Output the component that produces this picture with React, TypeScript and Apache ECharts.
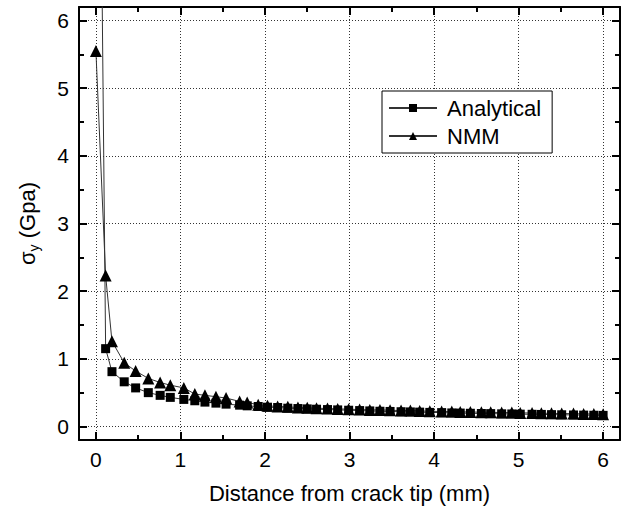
import React, { useEffect, useRef } from "react";
import * as echarts from "echarts";

const xValues = [
  0, 0.115, 0.19, 0.335, 0.47, 0.62, 0.76, 0.88, 1.04, 1.17, 1.29, 1.42, 1.54,
  1.7, 1.79, 1.92, 2.03, 2.15, 2.27, 2.39, 2.5, 2.61, 2.74, 2.86, 2.99, 3.12,
  3.24, 3.36, 3.48, 3.61, 3.72, 3.83, 3.95, 4.09, 4.21, 4.31, 4.43, 4.56, 4.67,
  4.8, 4.92, 5.02, 5.16, 5.27, 5.39, 5.51, 5.65, 5.77, 5.89, 6.0,
];

const analytical = [
  15.7, 1.15, 0.81, 0.66, 0.57, 0.5, 0.46, 0.43, 0.4, 0.38, 0.36, 0.345, 0.33,
  0.315, 0.305, 0.295, 0.285, 0.28, 0.27, 0.265, 0.26, 0.255, 0.25, 0.245, 0.24,
  0.235, 0.23, 0.225, 0.222, 0.218, 0.215, 0.212, 0.208, 0.205, 0.2, 0.198,
  0.195, 0.192, 0.19, 0.187, 0.185, 0.182, 0.18, 0.178, 0.175, 0.173, 0.17,
  0.168, 0.166, 0.164,
];

const nmm = [
  5.55, 2.23, 1.26, 0.94, 0.82, 0.71, 0.65, 0.61, 0.57, 0.48, 0.46, 0.44, 0.42,
  0.37, 0.355, 0.32, 0.305, 0.295, 0.29, 0.28, 0.275, 0.27, 0.265, 0.26, 0.255,
  0.25, 0.245, 0.245, 0.24, 0.235, 0.235, 0.23, 0.225, 0.22, 0.22, 0.215, 0.215,
  0.21, 0.21, 0.205, 0.205, 0.2, 0.2, 0.195, 0.195, 0.19, 0.19, 0.185, 0.185,
  0.18,
];

const majorTicks = [0, 1, 2, 3, 4, 5, 6];
const minorTicks = [0.5, 1.5, 2.5, 3.5, 4.5, 5.5];

const FONT = "Arial, 'Liberation Sans', sans-serif";
const AX_MIN = -0.2;
const AX_MAX = 6.2;

function makeAxes(dir: "x" | "y") {
  const mainPos = dir === "x" ? "bottom" : "left";
  const otherPos = dir === "x" ? "top" : "right";
  const base = {
    type: "value",
    min: AX_MIN,
    max: AX_MAX,
    splitNumber: 6,
  };
  const line = { show: true, onZero: false, lineStyle: { color: "#000", width: 2 } };
  const noLine = { show: false, onZero: false };
  return [
    {
      ...base,
      position: mainPos,
      axisLine: line,
      axisTick: {
        show: true,
        inside: true,
        length: 8,
        customValues: majorTicks,
        lineStyle: { color: "#000", width: 2 },
      },
      axisLabel: {
        show: true,
        customValues: majorTicks,
        margin: dir === "x" ? 9 : 10,
        fontSize: 21,
        color: "#000",
        fontFamily: FONT,
      },
      splitLine: {
        show: true,
        lineStyle: { color: "#333", width: 1, type: [1, 2] },
      },
      name:
        dir === "x" ? "Distance from crack tip (mm)" : "{a|σ}{b|y} (Gpa)",
      nameLocation: "middle",
      nameGap: dir === "x" ? 42 : 38,
      nameTextStyle:
        dir === "x"
          ? { fontSize: 22, color: "#000", fontFamily: FONT }
          : {
              fontSize: 22,
              color: "#000",
              fontFamily: FONT,
              rich: {
                a: { fontSize: 22, fontFamily: FONT, color: "#000" },
                b: {
                  fontSize: 14,
                  fontFamily: FONT,
                  color: "#000",
                  padding: [13, 0, 0, 0],
                },
              },
            },
    },
    {
      ...base,
      position: mainPos,
      axisLine: noLine,
      axisTick: {
        show: true,
        inside: true,
        length: 5,
        customValues: minorTicks,
        lineStyle: { color: "#000", width: 2 },
      },
      axisLabel: { show: false },
      splitLine: { show: false },
    },
    {
      ...base,
      position: otherPos,
      axisLine: line,
      axisTick: {
        show: true,
        inside: true,
        length: 8,
        customValues: majorTicks,
        lineStyle: { color: "#000", width: 2 },
      },
      axisLabel: { show: false },
      splitLine: { show: false },
    },
    {
      ...base,
      position: otherPos,
      axisLine: noLine,
      axisTick: {
        show: true,
        inside: true,
        length: 5,
        customValues: minorTicks,
        lineStyle: { color: "#000", width: 2 },
      },
      axisLabel: { show: false },
      splitLine: { show: false },
    },
  ];
}

export default function App() {
  const ref = useRef<HTMLDivElement>(null);
  useEffect(() => {
    if (!ref.current) return;
    const chart = echarts.init(ref.current, undefined, { renderer: "svg" });
    const aData = xValues.map((x, i) => [x, analytical[i]]);
    const nData = xValues.map((x, i) => [x, nmm[i]]);
    chart.setOption({
      animation: false,
      backgroundColor: "#fff",
      textStyle: { fontFamily: FONT },
      grid: {
        left: 79,
        right: 5,
        top: 7,
        bottom: 70,
        containLabel: false,
        outerBoundsMode: "none",
      },
      legend: {
        show: true,
        orient: "vertical",
        left: 382,
        top: 91,
        itemWidth: 48,
        itemHeight: 10,
        itemGap: 6,
        padding: [6, 11, 6, 6],
        backgroundColor: "#fff",
        borderColor: "#000",
        borderWidth: 1,
        borderRadius: 0,
        textStyle: {
          fontSize: 22,
          color: "#000",
          fontFamily: FONT,
          padding: [0, 0, 0, 5],
        },
        data: ["Analytical", "NMM"],
      },
      xAxis: makeAxes("x"),
      yAxis: makeAxes("y"),
      series: [
        {
          name: "Analytical",
          type: "line",
          data: aData,
          symbol: "rect",
          symbolSize: 9,
          clip: true,
          itemStyle: { color: "#000" },
          lineStyle: { color: "#333", width: 1 },
          xAxisIndex: 0,
          yAxisIndex: 0,
        },
        {
          name: "NMM",
          type: "line",
          data: nData,
          symbol: "triangle",
          symbolSize: 12,
          clip: true,
          itemStyle: { color: "#000" },
          lineStyle: { color: "#333", width: 1 },
          xAxisIndex: 0,
          yAxisIndex: 0,
        },
      ],
    });
    return () => chart.dispose();
  }, []);
  return <div ref={ref} style={{ width: 625, height: 510, position: "absolute", left: 0, top: 0 }} />;
}
